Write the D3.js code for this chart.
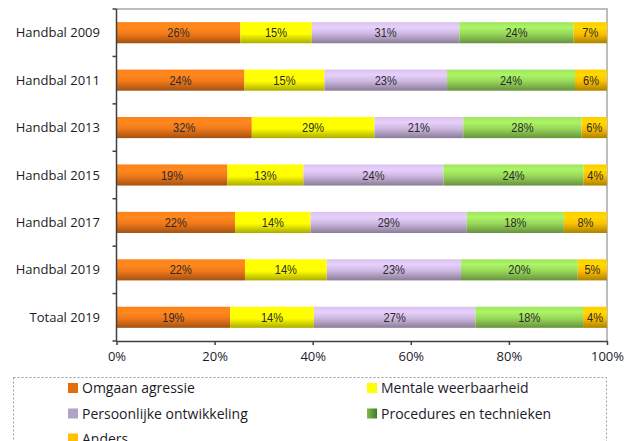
<!DOCTYPE html>
<html>
<head>
<meta charset="utf-8">
<script src="https://cdn.jsdelivr.net/npm/d3@7/dist/d3.min.js"></script>
<style>
  html, body { margin: 0; padding: 0; background: #fff; }
  svg { display: block; }
</style>
</head>
<body>
<svg id="chart" width="636" height="441"></svg>
<script>
// ---- data ----
const categories = ["Handbal 2009","Handbal 2011","Handbal 2013","Handbal 2015","Handbal 2017","Handbal 2019","Totaal 2019"];
const seriesNames = ["Omgaan agressie","Mentale weerbaarheid","Persoonlijke ontwikkeling","Procedures en technieken","Anders"];
const omgaanAgressie = [26,24,32,19,22,22,19];
const mentaleWeerbaarheid = [15,15,29,13,14,14,14];
const persoonlijkeOntwikkeling = [31,23,21,24,29,23,27];
const proceduresTechnieken = [24,24,28,24,18,20,18];
const anders = [7,6,6,4,8,5,4];
const xTickValues = [0,0.2,0.4,0.6,0.8,1];
const xTickLabels = ["0%","20%","40%","60%","80%","100%"];

// ---- styles ----
const barColors = ["#F2791A","#FFFF00","#CDB8E0","#98D85A","#FFC000"];
const legendColors = ["#E46C0A","#FFFF00","#B3A2C7","#5A9A30","#FFC000"];

const seriesValues = [omgaanAgressie, mentaleWeerbaarheid, persoonlijkeOntwikkeling, proceduresTechnieken, anders];
const table = categories.map((c, i) => {
  const row = { category: c };
  seriesNames.forEach((s, j) => row[s] = seriesValues[j][i]);
  return row;
});

const svg = d3.select("#chart");
const margin = { left: 116.5, right: 29, top: 9, bottom: 100 };
const W = 636, H = 441;
const x = d3.scaleLinear().domain([0,1]).range([margin.left, 607]);
const y = d3.scaleBand().domain(categories).range([margin.top, 341]).paddingInner(0.555).paddingOuter(0.2775);

// gradients
const defs = svg.append("defs");
barColors.forEach((c, i) => {
  const base = d3.color(c);
  const g = defs.append("linearGradient").attr("id", "g" + i)
    .attr("x1", 0).attr("y1", 0).attr("x2", 0).attr("y2", 1);
  g.append("stop").attr("offset", "0%").attr("stop-color", base.brighter(0.15));
  g.append("stop").attr("offset", "25%").attr("stop-color", base.brighter(0.35));
  g.append("stop").attr("offset", "55%").attr("stop-color", base);
  g.append("stop").attr("offset", "100%").attr("stop-color", base.darker(1.1));
});
const lg = defs.append("linearGradient").attr("id", "lgProc")
  .attr("x1", 0).attr("y1", 0).attr("x2", 1).attr("y2", 0);
lg.append("stop").attr("offset", "0%").attr("stop-color", "#7DBE4E");
lg.append("stop").attr("offset", "100%").attr("stop-color", "#3F7A22");

// frame (top & right)
svg.append("path")
  .attr("d", `M${x(0)},${margin.top}H${x(1)}V341`)
  .attr("fill", "none").attr("stroke", "#BDBDBD").attr("stroke-width", 2);

// stack
const stack = d3.stack().keys(seriesNames).offset(d3.stackOffsetExpand);
const stacked = stack(table);

const layers = svg.append("g").selectAll("g").data(stacked).join("g")
  .attr("fill", (d, i) => `url(#g${i})`);

layers.selectAll("rect").data(d => d).join("rect")
  .attr("x", d => x(d[0]))
  .attr("y", d => y(d.data.category))
  .attr("width", d => x(d[1]) - x(d[0]))
  .attr("height", y.bandwidth());

// labels
const labelG = svg.append("g");
stacked.forEach((layer, i) => {
  layer.forEach(d => {
    const cx = (x(d[0]) + x(d[1])) / 2;
    const cy = y(d.data.category) + y.bandwidth() / 2;
    labelG.append("text")
      .attr("transform", `translate(${cx},${cy + 4.5}) scale(0.82,1)`)
      .attr("text-anchor", "middle")
      .attr("font-family", "Liberation Sans, Arial, sans-serif")
      .attr("font-size", 13.5)
      .attr("fill", "#2a2a2a")
      .text(d.data[layer.key] + "%");
  });
});

// y axis
const yAxisG = svg.append("g").attr("transform", `translate(${x(0)},0)`);
yAxisG.append("line").attr("x1", 0).attr("x2", 0).attr("y1", margin.top).attr("y2", 341)
  .attr("stroke", "#404040").attr("stroke-width", 1.5);
const step = y.step();
const boundaries = d3.range(categories.length + 1).map(i => margin.top + i * (341 - margin.top) / categories.length);
yAxisG.selectAll("line.t").data(boundaries).join("line").attr("class", "t")
  .attr("x1", -4).attr("x2", 0).attr("y1", d => d).attr("y2", d => d)
  .attr("stroke", "#404040").attr("stroke-width", 1.5);
svg.append("g").selectAll("text").data(categories).join("text")
  .attr("x", 100).attr("y", d => y(d) + y.bandwidth() / 2 + 4.5)
  .attr("text-anchor", "end")
  .attr("font-family", "Open Sans, sans-serif")
  .attr("font-size", 13)
  .attr("fill", "#1b1b2b")
  .text(d => d);

// x axis
const xAxis = d3.axisBottom(x).tickValues(xTickValues).tickFormat((d, i) => xTickLabels[i]).tickSize(4).tickSizeOuter(0);
const xAxisG = svg.append("g").attr("transform", "translate(0,341)").call(xAxis);
xAxisG.select(".domain").attr("stroke", "#404040").attr("stroke-width", 1.5);
xAxisG.selectAll(".tick line").attr("stroke", "#404040").attr("stroke-width", 1.5);
xAxisG.selectAll(".tick text")
  .attr("font-family", "Open Sans, sans-serif").attr("font-size", 13)
  .attr("fill", "#1b1b2b").attr("dy", "1.0em").attr("y", 7);

// legend
svg.append("rect").attr("x", 13.5).attr("y", 377.5).attr("width", 593).attr("height", 80)
  .attr("fill", "none").attr("stroke", "#9a9a9a").attr("stroke-dasharray", "2,2");
const legendCols = [68, 367];
const legendRows = [388, 413.5, 438.5];
const legendG = svg.append("g");
seriesNames.forEach((s, i) => {
  const cx = legendCols[i % 2], cy = legendRows[Math.floor(i / 2)];
  legendG.append("rect").attr("x", cx).attr("y", cy - 5).attr("width", 10).attr("height", 10)
    .attr("fill", i === 3 ? "url(#lgProc)" : legendColors[i]);
  legendG.append("text").attr("x", cx + 14).attr("y", cy + 5)
    .attr("font-family", "Open Sans, sans-serif").attr("font-size", 14)
    .attr("fill", "#1b1b2b").text(s);
});
</script>
</body>
</html>
